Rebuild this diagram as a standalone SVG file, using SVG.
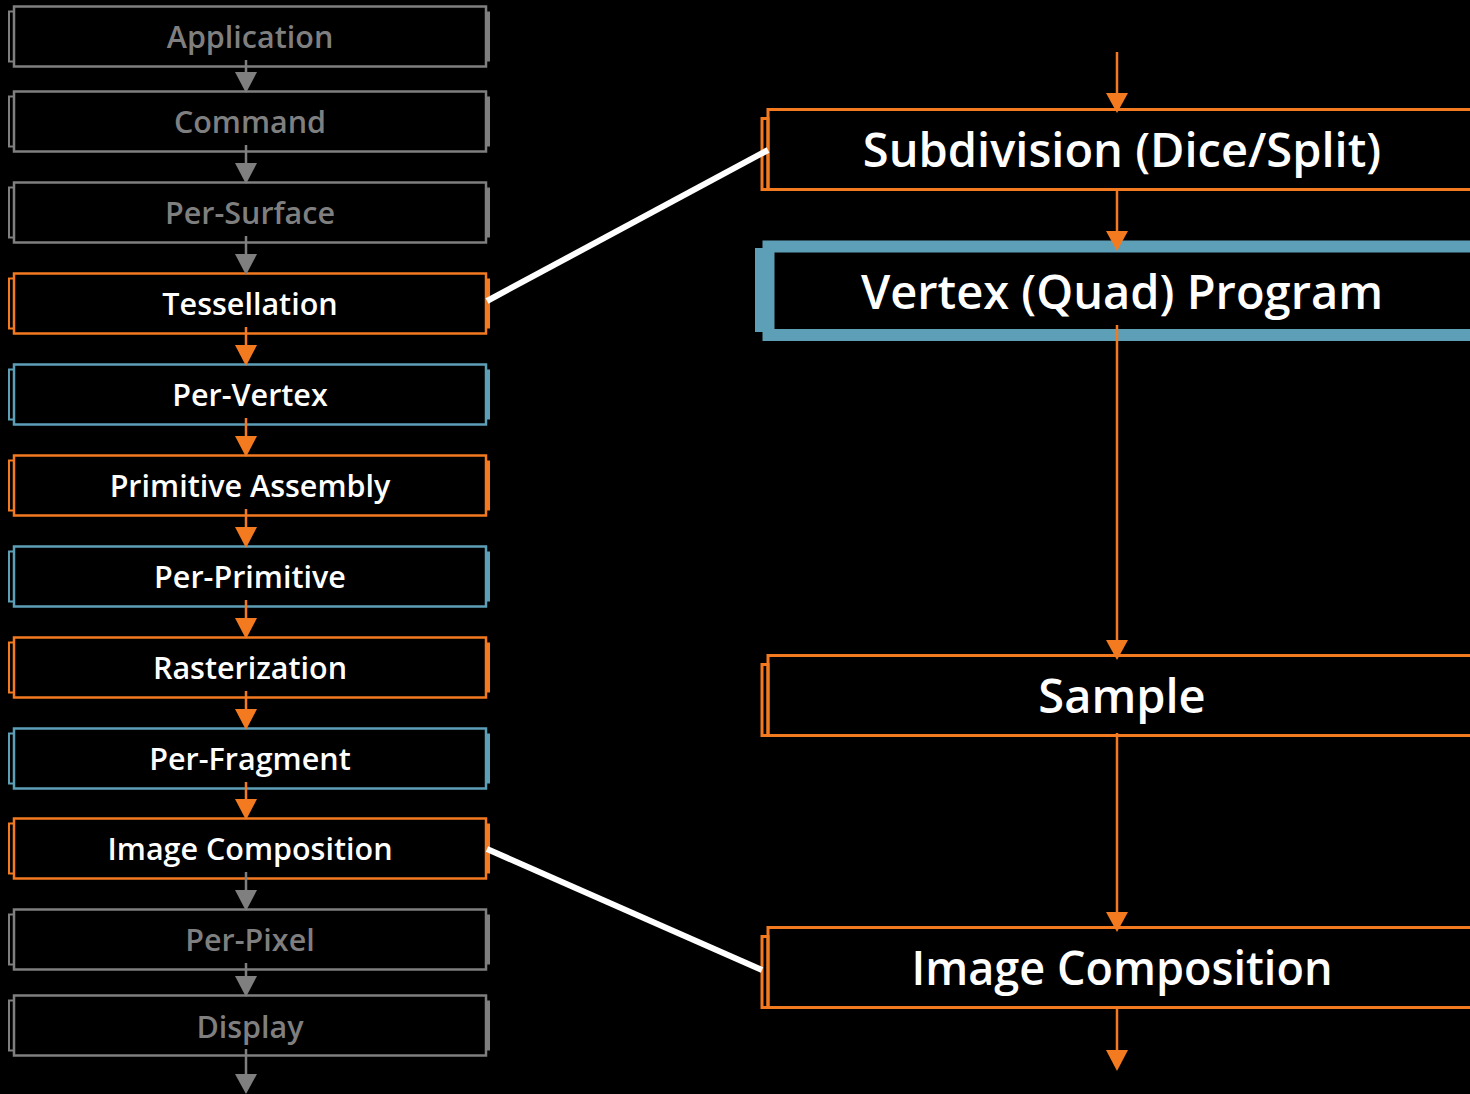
<svg xmlns="http://www.w3.org/2000/svg" width="1470" height="1094" viewBox="0 0 1470 1094">
  <style>
    .bg { fill: #000; }
    .lbl { font-family: "Open Sans", "DejaVu Sans", sans-serif; font-weight: 600; text-anchor: middle; }
    .small { font-size: 30.5px; }
    .big { font-size: 47px; }
    .txt-w { fill: #ffffff; }
    .txt-g { fill: #7f7f7f; }
    .gray { stroke: #7f7f7f; }
    .orange { stroke: #f47a20; }
    .blue { stroke: #5e9fb8; }
    .fgray { fill: #7f7f7f; }
    .forange { fill: #f47a20; }
    .fblue { fill: #5e9fb8; }
    .box { fill: #000; stroke-width: 2.5; }
    .tab { fill: none; stroke-width: 2; }
    .rbox { fill: #000; stroke-width: 3; }
    .rtab { fill: none; stroke-width: 3; }
    .shaft { stroke-width: 2.5; fill: none; }
    .link { stroke: #ffffff; stroke-width: 6; fill: none; }
  </style>
  <rect class="bg" x="0" y="0" width="1470" height="1094"/>

  <!-- left pipeline stages -->
  <g id="application">
    <rect class="box gray" x="14" y="6.5" width="472" height="60"/>
    <rect class="tab gray" x="9" y="11.5" width="5" height="50"/>
    <rect class="fgray" x="486" y="11.5" width="4" height="50"/>
    <text class="lbl small txt-g" x="250" y="48">Application</text>
  </g>
  <g id="command">
    <rect class="box gray" x="14" y="91.5" width="472" height="60"/>
    <rect class="tab gray" x="9" y="96.5" width="5" height="50"/>
    <rect class="fgray" x="486" y="96.5" width="4" height="50"/>
    <text class="lbl small txt-g" x="250" y="133">Command</text>
  </g>
  <g id="per-surface">
    <rect class="box gray" x="14" y="182.5" width="472" height="60"/>
    <rect class="tab gray" x="9" y="187.5" width="5" height="50"/>
    <rect class="fgray" x="486" y="187.5" width="4" height="50"/>
    <text class="lbl small txt-g" x="250" y="224">Per-Surface</text>
  </g>
  <g id="tessellation">
    <rect class="box orange" x="14" y="273.5" width="472" height="60"/>
    <rect class="tab orange" x="9" y="278.5" width="5" height="50"/>
    <rect class="forange" x="486" y="278.5" width="4" height="50"/>
    <text class="lbl small txt-w" x="250" y="315">Tessellation</text>
  </g>
  <g id="per-vertex">
    <rect class="box blue" x="14" y="364.5" width="472" height="60"/>
    <rect class="tab blue" x="9" y="369.5" width="5" height="50"/>
    <rect class="fblue" x="486" y="369.5" width="4" height="50"/>
    <text class="lbl small txt-w" x="250" y="406">Per-Vertex</text>
  </g>
  <g id="primitive-assembly">
    <rect class="box orange" x="14" y="455.5" width="472" height="60"/>
    <rect class="tab orange" x="9" y="460.5" width="5" height="50"/>
    <rect class="forange" x="486" y="460.5" width="4" height="50"/>
    <text class="lbl small txt-w" x="250" y="497">Primitive Assembly</text>
  </g>
  <g id="per-primitive">
    <rect class="box blue" x="14" y="546.5" width="472" height="60"/>
    <rect class="tab blue" x="9" y="551.5" width="5" height="50"/>
    <rect class="fblue" x="486" y="551.5" width="4" height="50"/>
    <text class="lbl small txt-w" x="250" y="588">Per-Primitive</text>
  </g>
  <g id="rasterization">
    <rect class="box orange" x="14" y="637.5" width="472" height="60"/>
    <rect class="tab orange" x="9" y="642.5" width="5" height="50"/>
    <rect class="forange" x="486" y="642.5" width="4" height="50"/>
    <text class="lbl small txt-w" x="250" y="679">Rasterization</text>
  </g>
  <g id="per-fragment">
    <rect class="box blue" x="14" y="728.5" width="472" height="60"/>
    <rect class="tab blue" x="9" y="733.5" width="5" height="50"/>
    <rect class="fblue" x="486" y="733.5" width="4" height="50"/>
    <text class="lbl small txt-w" x="250" y="770">Per-Fragment</text>
  </g>
  <g id="image-composition">
    <rect class="box orange" x="14" y="818.5" width="472" height="60"/>
    <rect class="tab orange" x="9" y="823.5" width="5" height="50"/>
    <rect class="forange" x="486" y="823.5" width="4" height="50"/>
    <text class="lbl small txt-w" x="250" y="860">Image Composition</text>
  </g>
  <g id="per-pixel">
    <rect class="box gray" x="14" y="909.5" width="472" height="60"/>
    <rect class="tab gray" x="9" y="914.5" width="5" height="50"/>
    <rect class="fgray" x="486" y="914.5" width="4" height="50"/>
    <text class="lbl small txt-g" x="250" y="951">Per-Pixel</text>
  </g>
  <g id="display">
    <rect class="box gray" x="14" y="995.5" width="472" height="60"/>
    <rect class="tab gray" x="9" y="1000.5" width="5" height="50"/>
    <rect class="fgray" x="486" y="1000.5" width="4" height="50"/>
    <text class="lbl small txt-g" x="250" y="1038">Display</text>
  </g>

  <!-- expanded stages on the right -->
  <g id="subdivision">
    <rect class="rbox orange" x="768" y="109.5" width="720" height="80"/>
    <rect class="rtab orange" x="762" y="118.5" width="6" height="71"/>
    <text class="lbl big txt-w" x="1122" y="167">Subdivision (Dice/Split)</text>
  </g>
  <g id="vertex-program">
    <rect fill="#000" class="blue" stroke-width="12" x="768.5" y="246.5" width="720" height="88.5"/>
    <rect class="fblue" x="755" y="248" width="8" height="84"/>
    <text class="lbl big txt-w" x="1122" y="309">Vertex (Quad) Program</text>
  </g>
  <g id="sample">
    <rect class="rbox orange" x="768" y="655.5" width="720" height="80"/>
    <rect class="rtab orange" x="762" y="664.5" width="6" height="71"/>
    <text class="lbl big txt-w" x="1122" y="713">Sample</text>
  </g>
  <g id="image-composition-detail">
    <rect class="rbox orange" x="768" y="927.5" width="720" height="80"/>
    <rect class="rtab orange" x="762" y="936.5" width="6" height="71"/>
    <text class="lbl big txt-w" x="1122" y="985" textLength="421" lengthAdjust="spacingAndGlyphs">Image Composition</text>
  </g>

  <!-- connectors -->
  <g id="connectors">
    <!-- left chain -->
    <g class="gray">
      <line class="shaft" x1="246" y1="60" x2="246" y2="73"/>
      <line class="shaft" x1="246" y1="145" x2="246" y2="164"/>
      <line class="shaft" x1="246" y1="236" x2="246" y2="255"/>
      <line class="shaft" x1="246" y1="872" x2="246" y2="891"/>
      <line class="shaft" x1="246" y1="963" x2="246" y2="977"/>
      <line class="shaft" x1="246" y1="1049" x2="246" y2="1075"/>
    </g>
    <g class="fgray">
      <polygon points="235,72 257,72 246,93"/>
      <polygon points="235,163 257,163 246,184"/>
      <polygon points="235,254 257,254 246,275"/>
      <polygon points="235,890 257,890 246,911"/>
      <polygon points="235,976 257,976 246,997"/>
      <polygon points="235,1074 257,1074 246,1094"/>
    </g>
    <g class="orange">
      <line class="shaft" x1="246" y1="327" x2="246" y2="346"/>
      <line class="shaft" x1="246" y1="418" x2="246" y2="437"/>
      <line class="shaft" x1="246" y1="509" x2="246" y2="528"/>
      <line class="shaft" x1="246" y1="600" x2="246" y2="619"/>
      <line class="shaft" x1="246" y1="691" x2="246" y2="710"/>
      <line class="shaft" x1="246" y1="782" x2="246" y2="800"/>
    </g>
    <g class="forange">
      <polygon points="235,345 257,345 246,366"/>
      <polygon points="235,436 257,436 246,457"/>
      <polygon points="235,527 257,527 246,548"/>
      <polygon points="235,618 257,618 246,639"/>
      <polygon points="235,709 257,709 246,730"/>
      <polygon points="235,799 257,799 246,820"/>
    </g>
    <!-- right chain -->
    <g class="orange">
      <line class="shaft" x1="1117" y1="52" x2="1117" y2="94"/>
      <line class="shaft" x1="1117" y1="189" x2="1117" y2="232"/>
      <line class="shaft" x1="1117" y1="325" x2="1117" y2="641"/>
      <line class="shaft" x1="1117" y1="733" x2="1117" y2="913"/>
      <line class="shaft" x1="1117" y1="1007" x2="1117" y2="1051"/>
    </g>
    <g class="forange">
      <polygon points="1106,93 1128,93 1117,113"/>
      <polygon points="1106,231 1128,231 1117,251"/>
      <polygon points="1106,640 1128,640 1117,660"/>
      <polygon points="1106,912 1128,912 1117,932"/>
      <polygon points="1106,1050 1128,1050 1117,1071"/>
    </g>
    <!-- zoom links -->
    <line class="link" x1="487" y1="301" x2="768" y2="150"/>
    <line class="link" x1="487" y1="849" x2="762" y2="970"/>
  </g>
</svg>
